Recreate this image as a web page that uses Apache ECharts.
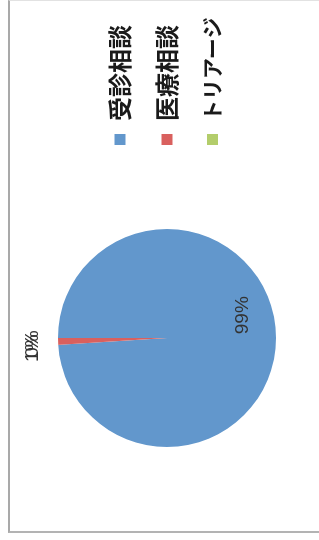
<!DOCTYPE html>
<html>
<head>
<meta charset="utf-8">
<script src="https://cdn.jsdelivr.net/npm/echarts@6/dist/echarts.min.js"></script>
<style>
  html, body { margin: 0; padding: 0; background: #fff; }
  body { width: 319px; height: 540px; overflow: hidden; position: relative; }
  /* the scanned chart is turned a quarter turn counter-clockwise */
  #page {
    position: absolute; left: 0; top: 0;
    width: 540px; height: 319px;
    transform-origin: 0 0;
    transform: translateY(540px) rotate(-90deg);
  }
  #frame {
    position: absolute; left: 7px; top: 8px; width: 530px; height: 330px;
    border-top: 2px solid #a9a9a9;
    border-left: 2px solid #b3b3b3;
    border-right: 1px solid #e2e2e2;
  }
  #main { position: absolute; left: 0; top: 0; width: 540px; height: 319px; }
</style>
</head>
<body>
<div id="page">
  <div id="frame"></div>
  <div id="main"></div>
</div>
<script>
// 相談の内訳（%）
var categories = ["受診相談", "医療相談", "トリアージ"];
var values = [99, 1, 0];
var colors = ["#6297cc", "#d9605e", "#b3cd6b"];

var chart = echarts.init(document.getElementById("main"));

var pieData = [];
for (var i = 0; i < categories.length; i++) {
  var item = { name: categories[i], value: values[i], itemStyle: { color: colors[i] } };
  if (i === 0) {
    item.label = { position: "inside" };
  }
  pieData.push(item);
}

var option = {
  animation: false,
  backgroundColor: "transparent",
  legend: {
    orient: "vertical",
    left: 390,
    top: 103,
    icon: "rect",
    itemWidth: 11,
    itemHeight: 11,
    itemGap: 23,
    data: categories,
    // katakana is narrower in the original font
    formatter: function (name) {
      return /[ァ-ヶー]/.test(name) ? "{k|" + name + "}" : name;
    },
    textStyle: {
      fontFamily: "Noto Sans CJK JP",
      fontSize: 24,
      fontWeight: "bold",
      color: "#1a1a1a",
      padding: [0, 0, 0, 8],
      rich: {
        k: { fontFamily: "Noto Sans CJK JP", fontSize: 21, fontWeight: "bold", color: "#1a1a1a" }
      }
    }
  },
  series: [
    {
      type: "pie",
      center: [202, 167],
      radius: [0, 109],
      startAngle: 90,
      clockwise: true,
      avoidLabelOverlap: false,
      percentPrecision: 0,
      itemStyle: { borderWidth: 0 },
      label: {
        show: true,
        position: "outside",
        formatter: "{d}%",
        fontFamily: "Liberation Sans",
        fontSize: 19,
        color: "#333",
        distanceToLabelLine: 0
      },
      labelLine: { show: false, length: 25, length2: 0 },
      labelLayout: function (params) {
        if (params.dataIndex === 0) {
          return { dx: 21, dy: 18 };
        }
        return { align: "center", verticalAlign: "middle", dx: -6 };
      },
      emphasis: { disabled: true },
      data: pieData
    }
  ]
};

chart.setOption(option);
</script>
</body>
</html>
